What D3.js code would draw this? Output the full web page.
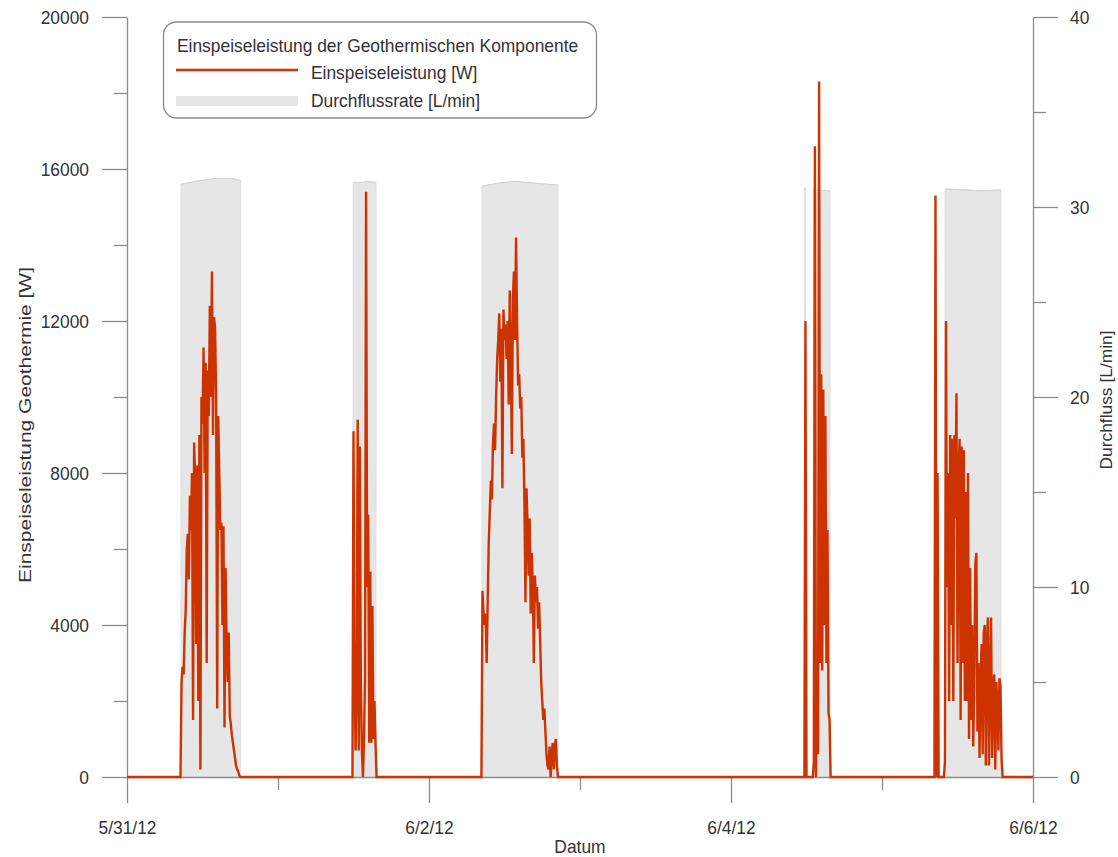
<!DOCTYPE html>
<html>
<head>
<meta charset="utf-8">
<title>Einspeiseleistung der Geothermischen Komponente</title>
<script src="https://cdn.jsdelivr.net/npm/d3@7"></script>
<style>
  body { margin: 0; background: #fff; }
  svg { display: block; background: #fff; }
</style>
</head>
<body>
<svg id="chart" width="1118" height="857"></svg>
<script>
// ---- data -------------------------------------------------------------
const dayTicks   = ["2012-05-31T00:00", "2012-06-01T00:00", "2012-06-02T00:00", "2012-06-03T00:00",
                    "2012-06-04T00:00", "2012-06-05T00:00", "2012-06-06T00:00"];
const dateLabels = ["5/31/12", "6/2/12", "6/4/12", "6/6/12"];

const powerTicks      = [0, 4000, 8000, 12000, 16000, 20000];
const powerMinorTicks = [2000, 6000, 10000, 14000, 18000];
const flowTicks       = [0, 10, 20, 30, 40];
const flowMinorTicks  = [5, 15, 25, 35];

// logger interval of the heat output series (minutes)
const sampleMinutes = 10;

// first sample of each operating period
const powerStarts = ["2012-05-31T08:30", "2012-06-01T11:50", "2012-06-02T08:20",
                     "2012-06-04T11:40", "2012-06-05T08:20"];

// heat output [W], one value per logger interval
const powerDay1 = [0, 2500, 2900, 2700, 3800, 4400, 6000, 6400, 5200, 7400, 6500, 8000, 1500, 8800, 7800,
  3500, 8200, 2000, 9000, 200, 10000, 9300, 11300, 8000, 10900, 3000, 10700, 9500, 12400, 10000, 13300,
  9000, 12100, 11800, 10000, 1800, 9500, 8000, 6500, 6700, 4000, 6600, 1300, 5500, 3500, 2500, 3800,
  1600, 1400, 1100, 900, 700, 500, 300, 200, 150, 50, 0];
const powerDay2 = [0, 9100, 2500, 700, 2400, 9400, 700, 8700, 2400, 700, 0, 1000, 2600, 15400, 5000,
  6900, 900, 5400, 900, 4500, 1000, 2000, 900, 0];
const powerDay3 = [0, 4900, 4300, 4000, 4300, 3000, 4700, 6200, 7000, 7800, 7300, 8800, 9300, 8600,
  10000, 11000, 11500, 12200, 10400, 11800, 7600, 12300, 11500, 11900, 11000, 12000, 9800, 12800, 11000,
  8500, 12600, 13300, 11500, 14200, 12000, 10300, 10600, 9700, 10000, 8400, 8900, 7200, 4600, 7600,
  6600, 5300, 6800, 4300, 5900, 5000, 3000, 5300, 4600, 5000, 3900, 4600, 3600, 2500, 2000, 1500,
  1800, 1200, 600, 300, 200, 800, 0, 600, 900, 200, 800, 1000, 300, 0];
const powerDay4 = [0, 12000, 0, 0, 0, 0, 0, 0, 0, 400, 16600, 0, 2500, 600, 18300, 3000, 10600, 2800,
  10200, 4000, 9500, 3000, 6500, 1700, 1500, 0];
const powerDay5 = [0, 15300, 0, 8000, 0, 0, 0, 0, 0, 0, 400, 12000, 5000, 8000, 2000, 9000, 4000, 8900,
  2000, 9000, 6800, 10100, 3000, 8000, 8900, 1500, 8700, 3000, 8600, 2000, 7500, 2000, 8000, 1000, 5500,
  1500, 4000, 800, 2500, 5600, 5900, 1200, 3000, 500, 2500, 3500, 600, 3800, 4000, 300, 3500, 4200,
  300, 2600, 4200, 500, 2300, 2700, 200, 2500, 2000, 700, 2600, 2400, 500, 0];

// flow rate [L/min] while the pump runs: [time, value]
const flowDay1  = [["2012-05-31T08:35", 31.2], ["2012-05-31T11:00", 31.35], ["2012-05-31T14:00", 31.5],
                   ["2012-05-31T16:30", 31.5], ["2012-05-31T18:05", 31.4]];
const flowDay2a = [["2012-06-01T11:55", 31.3], ["2012-06-01T12:35", 31.3]];
const flowDay2b = [["2012-06-01T12:45", 31.3], ["2012-06-01T13:30", 31.3]];
const flowDay2c = [["2012-06-01T13:40", 31.35], ["2012-06-01T15:35", 31.3]];
const flowDay3  = [["2012-06-02T08:25", 31.1], ["2012-06-02T11:00", 31.25], ["2012-06-02T13:30", 31.35],
                   ["2012-06-02T17:00", 31.25], ["2012-06-02T20:30", 31.15]];
const flowDay4a = [["2012-06-04T11:40", 31.0], ["2012-06-04T11:50", 31.0]];
const flowDay4b = [["2012-06-04T13:05", 30.9], ["2012-06-04T15:45", 30.85]];
const flowDay5  = [["2012-06-05T10:00", 30.95], ["2012-06-05T13:00", 30.9], ["2012-06-05T16:00", 30.85],
                   ["2012-06-05T18:55", 30.9]];

// ---- setup ------------------------------------------------------------
const FONT = "'Liberation Sans', Arial, Helvetica, sans-serif";
const FS = 17.4;
const TEXT = "#333";
const AXIS = "#8c8c8c";
const RED = "#cc3300";
const GREY_FILL = "#e6e6e6";

const parse = d3.timeParse("%Y-%m-%dT%H:%M");
const svg = d3.select("#chart");

const x = d3.scaleTime()
  .domain([parse(dayTicks[0]), parse(dayTicks[dayTicks.length - 1])])
  .range([127, 1033]);
const yPower = d3.scaleLinear().domain([0, 20000]).range([777, 17]);
const yFlow  = d3.scaleLinear().domain([0, 40]).range([777, 17]);

// slightly tall glyphs
function stretch(sel, k = 1.1) {
  sel.each(function () {
    const t = d3.select(this);
    const y = +t.attr("y") || 0;
    t.attr("transform", `translate(0,${y}) scale(1,${k}) translate(0,${-y})`);
  });
}

// ---- flow rate (grey area) -------------------------------------------
const flowPieces = [flowDay1, flowDay2a, flowDay2b, flowDay2c, flowDay3, flowDay4a, flowDay4b, flowDay5];
const flowArea = d3.area()
  .x(d => x(parse(d[0])))
  .y0(yFlow(0))
  .y1(d => yFlow(d[1]));
const flowTop = d3.line()
  .x(d => x(parse(d[0])))
  .y(d => yFlow(d[1]));

const flowG = svg.append("g");
flowG.selectAll("path.area").data(flowPieces).join("path")
  .attr("class", "area")
  .attr("d", flowArea)
  .attr("fill", GREY_FILL)
  .attr("stroke", "#dcdcdc")
  .attr("stroke-width", 0.8);
flowG.selectAll("path.top").data(flowPieces).join("path")
  .attr("class", "top")
  .attr("d", flowTop)
  .attr("fill", "none")
  .attr("stroke", "#d2d2d2")
  .attr("stroke-width", 1);

// ---- axes -------------------------------------------------------------
function styleAxis(g) {
  g.attr("font-family", FONT).attr("font-size", FS);
  g.selectAll("path.domain").attr("stroke", AXIS).attr("stroke-width", 1.3);
  g.selectAll(".tick line").attr("stroke", AXIS).attr("stroke-width", 1.3);
  g.selectAll(".tick text").attr("fill", TEXT);
}

const majorDays = dayTicks.filter((d, i) => i % 2 === 0).map(parse);
const minorDays = dayTicks.filter((d, i) => i % 2 === 1).map(parse);

const xMajor = svg.append("g").attr("transform", `translate(0,${yPower(0)})`)
  .call(d3.axisBottom(x).tickValues(majorDays).tickFormat((d, i) => dateLabels[i])
    .tickSize(26).tickPadding(17).tickSizeOuter(0))
  .call(styleAxis);
stretch(xMajor.selectAll(".tick text"));
svg.append("g").attr("transform", `translate(0,${yPower(0)})`)
  .call(d3.axisBottom(x).tickValues(minorDays).tickFormat("").tickSize(13).tickSizeOuter(0))
  .call(styleAxis)
  .call(g => g.select(".domain").remove());

const yLeftMajor = svg.append("g").attr("transform", `translate(${x.range()[0]},0)`)
  .call(d3.axisLeft(yPower).tickValues(powerTicks).tickFormat(d3.format("d"))
    .tickSize(25).tickPadding(13).tickSizeOuter(0))
  .call(styleAxis);
stretch(yLeftMajor.selectAll(".tick text"));
svg.append("g").attr("transform", `translate(${x.range()[0]},0)`)
  .call(d3.axisLeft(yPower).tickValues(powerMinorTicks).tickFormat("").tickSize(13).tickSizeOuter(0))
  .call(styleAxis)
  .call(g => g.select(".domain").remove());

const yRightMajor = svg.append("g").attr("transform", `translate(${x.range()[1]},0)`)
  .call(d3.axisRight(yFlow).tickValues(flowTicks).tickFormat(d3.format("d"))
    .tickSize(25).tickPadding(12).tickSizeOuter(0))
  .call(styleAxis);
stretch(yRightMajor.selectAll(".tick text"));
svg.append("g").attr("transform", `translate(${x.range()[1]},0)`)
  .call(d3.axisRight(yFlow).tickValues(flowMinorTicks).tickFormat("").tickSize(13).tickSizeOuter(0))
  .call(styleAxis)
  .call(g => g.select(".domain").remove());

// axis titles
const xTitle = svg.append("text")
  .attr("x", (x.range()[0] + x.range()[1]) / 2).attr("y", 853)
  .attr("text-anchor", "middle")
  .attr("font-family", FONT).attr("font-size", FS).attr("fill", TEXT)
  .text("Datum");
stretch(xTitle);

svg.append("text")
  .attr("transform", "translate(30.5,425) rotate(-90)")
  .attr("text-anchor", "middle")
  .attr("font-family", FONT).attr("font-size", FS).attr("fill", TEXT)
  .attr("textLength", 316).attr("lengthAdjust", "spacingAndGlyphs")
  .text("Einspeiseleistung Geothermie [W]");

svg.append("text")
  .attr("transform", "translate(1112,400) rotate(-90)")
  .attr("text-anchor", "middle")
  .attr("font-family", FONT).attr("font-size", FS).attr("fill", TEXT)
  .text("Durchfluss [L/min]");

// ---- heat output (red line) -------------------------------------------
const powerDays = [powerDay1, powerDay2, powerDay3, powerDay4, powerDay5];
const powerSeries = [{ t: x.domain()[0], w: 0 }];
powerStarts.forEach((s, i) => {
  const t0 = parse(s);
  powerDays[i].forEach((w, k) => {
    powerSeries.push({ t: d3.timeMinute.offset(t0, k * sampleMinutes), w });
  });
});
powerSeries.push({ t: x.domain()[1], w: 0 });

svg.append("path")
  .datum(powerSeries)
  .attr("d", d3.line().x(d => x(d.t)).y(d => yPower(d.w)))
  .attr("fill", "none")
  .attr("stroke", RED)
  .attr("stroke-width", 2.4)
  .attr("stroke-linejoin", "miter");

// ---- legend -----------------------------------------------------------
const legend = svg.append("g").attr("font-family", FONT).attr("font-size", FS);
legend.append("rect")
  .attr("x", 163.5).attr("y", 22).attr("width", 433).attr("height", 96)
  .attr("rx", 13).attr("ry", 13)
  .attr("fill", "#fff").attr("stroke", "#8c8c8c").attr("stroke-width", 1.3);
const lt = legend.append("text").attr("x", 177).attr("y", 52).attr("fill", TEXT)
  .text("Einspeiseleistung der Geothermischen Komponente");
legend.append("line")
  .attr("x1", 176).attr("x2", 298).attr("y1", 70).attr("y2", 70)
  .attr("stroke", RED).attr("stroke-width", 2.4);
const l1 = legend.append("text").attr("x", 311).attr("y", 79).attr("fill", TEXT)
  .text("Einspeiseleistung [W]");
legend.append("rect")
  .attr("x", 176).attr("y", 96).attr("width", 122).attr("height", 10)
  .attr("fill", GREY_FILL);
const l2 = legend.append("text").attr("x", 311).attr("y", 107).attr("fill", TEXT)
  .text("Durchflussrate [L/min]");
stretch(lt); stretch(l1); stretch(l2);
</script>
</body>
</html>
